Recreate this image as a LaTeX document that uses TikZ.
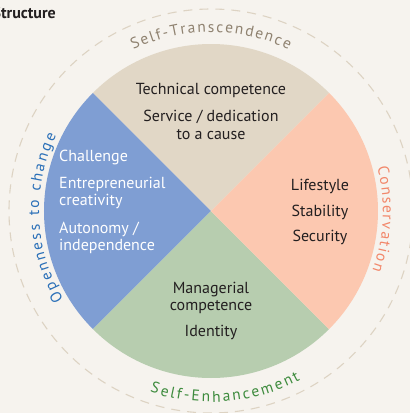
\documentclass[tikz,border=0pt]{standalone}
\usepackage{fontspec}
\setmainfont{PT Sans}
\usetikzlibrary{decorations.text}
\definecolor{bg}{HTML}{F6F3EE}
\definecolor{cbeige}{HTML}{E1D7C6}
\definecolor{cblue}{HTML}{7F9ED3}
\definecolor{csalmon}{HTML}{FCC8B0}
\definecolor{cgreen}{HTML}{B7CDAF}
\definecolor{dashcol}{HTML}{DDD3C3}
\definecolor{ink}{HTML}{231F20}
\definecolor{stc}{HTML}{8F8270}
\definecolor{otc}{HTML}{2B70B8}
\definecolor{cons}{HTML}{F2876A}
\definecolor{senh}{HTML}{3D8B3D}
\newcommand{\arcfont}{\fontsize{15.5}{15.5}\selectfont}
\tikzset{
  lbl/.style={font=\fontsize{16}{19}\selectfont, inner sep=0pt, text=ink, anchor=base},
  lblw/.style={font=\fontsize{16}{19}\selectfont, inner sep=0pt, text=white, anchor=base west},
  arclabel/.style={decorate, decoration={text along path, text align={fit to path}, text={#1}}}
}
\begin{document}
\begin{tikzpicture}[x=1pt,y=1pt]
\path[use as bounding box, fill=bg] (-211,-202) rectangle (199,211);
% sectors
\fill[cbeige] (0,0) -- (45:167) arc[start angle=45,end angle=135,radius=167] -- cycle;
\fill[cblue] (0,0) -- (135:167) arc[start angle=135,end angle=225,radius=167] -- cycle;
\fill[cgreen] (0,0) -- (225:167) arc[start angle=225,end angle=315,radius=167] -- cycle;
\fill[csalmon] (0,0) -- (315:167) arc[start angle=315,end angle=405,radius=167] -- cycle;
% dashed ring
\draw[dashcol, line width=1.1pt, dash pattern=on 9pt off 7pt] (0,0) circle[radius=202];
% title
\node[anchor=base east, inner sep=0pt, text=ink, font=\bfseries\fontsize{16}{16}\selectfont] (title) at (-155,192.5) {Structure};
% top
\node[lbl] (t1) at (0,117) {Technical competence};
\node[lbl] (t2) at (0,90) {Service / dedication};
\node[lbl] (t3) at (0,72) {to a cause};
% right
\node[lbl] (r1) at (109,21) {Lifestyle};
\node[lbl] (r2) at (109,-5) {Stability};
\node[lbl] (r3) at (109,-30) {Security};
% left
\node[lblw] (l1) at (-152,49.3) {Challenge};
\node[lblw] (l2) at (-152,23) {Entrepreneurial};
\node[lblw] (l3) at (-152,6) {creativity};
\node[lblw] (l4) at (-152,-22) {Autonomy /};
\node[lblw] (l5) at (-152,-39.7) {independence};
% bottom
\node[lbl] (b1) at (0,-82) {Managerial};
\node[lbl] (b2) at (0,-99) {competence};
\node[lbl] (b3) at (0,-125) {Identity};
% curved labels
\path[arclabel={|\arcfont\color{stc}|Self-Transcendence}] (115.7:179) arc[start angle=115.7,end angle=64.3,radius=179];
\path[arclabel={|\arcfont\color{senh}|Self-Enhancement}] (251.3:191) arc[start angle=251.3,end angle=297.9,radius=191];
\path[arclabel={|\arcfont\color{otc}|Openness to change}] (211:172) arc[start angle=211,end angle=154,radius=172];
\path[arclabel={|\arcfont\color{cons}|Conservation}] (14.8:172) arc[start angle=14.8,end angle=-20.2,radius=172];
\end{tikzpicture}
\end{document}
